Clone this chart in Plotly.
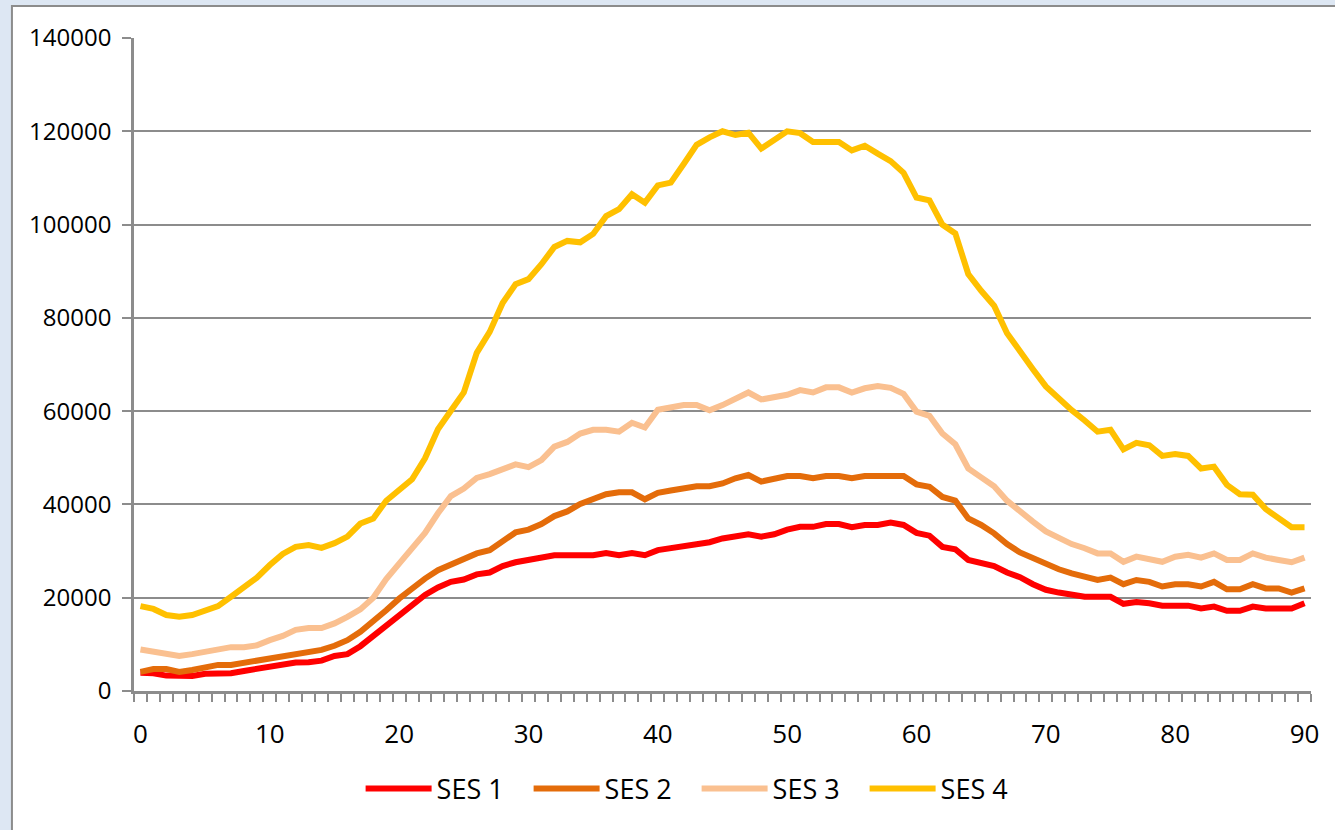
import plotly.graph_objects as go

x_vals = list(range(0, 91))
x_tick_vals = [0, 10, 20, 30, 40, 50, 60, 70, 80, 90]
x_tick_text = ["0", "10", "20", "30", "40", "50", "60", "70", "80", "90"]
y_tick_vals = [0, 20000, 40000, 60000, 80000, 100000, 120000, 140000]
y_tick_text = ["0", "20000", "40000", "60000", "80000", "100000", "120000", "140000"]

series_names = ["SES 1", "SES 2", "SES 3", "SES 4"]

ses1 = [3900, 3800, 3300, 3200, 3200, 3700, 3800, 3800, 4300, 4700,
        5200, 5700, 6100, 6150, 6500, 7500, 7900, 9600, 11800, 14400,
        16500, 18500, 20600, 22200, 23400, 23900, 25000, 25400, 26800, 27600,
        28200, 28700, 29100, 29100, 29100, 29100, 29600, 29100, 29600, 29100,
        30200, 30600, 30900, 31400, 31900, 32700, 33200, 33600, 33100, 33600,
        34600, 35200, 35200, 35800, 35800, 35100, 35600, 35600, 36100, 35600,
        33900, 33300, 30900, 30400, 28100, 27600, 26800, 25400, 24400, 22900,
        21700, 21100, 20700, 20200, 20200, 20200, 18700, 19100, 18800, 18300,
        18300, 18300, 17700, 18100, 17200, 17200, 18100, 17700, 17700, 17700,
        18800]

ses2 = [4100, 4700, 4700, 4100, 4500, 5200, 5600, 5600, 6100, 6500,
        7000, 7500, 7900, 8300, 8800, 9700, 10900, 12700, 14800, 17300,
        19800, 22000, 24100, 25900, 27200, 28200, 29500, 30200, 32000, 34000,
        34600, 35800, 37500, 38500, 40100, 41300, 42200, 42600, 42600, 41100,
        42500, 43000, 43500, 43900, 43900, 44500, 45600, 46300, 44900, 45400,
        46100, 46100, 45600, 46100, 46100, 45600, 46100, 46100, 46100, 46100,
        44300, 43800, 41600, 40800, 37000, 35600, 33800, 31500, 29700, 28400,
        27200, 26100, 25200, 24400, 23800, 24300, 22900, 23800, 23400, 22400,
        22900, 22900, 22400, 23400, 21800, 21800, 22900, 22000, 22000, 21100,
        22000]

ses3 = [8900, 8500, 7900, 7500, 7900, 8400, 8900, 9400, 9400, 9800,
        10900, 11800, 13100, 13500, 13500, 14500, 15900, 17500, 20000, 24000,
        27300, 30600, 33900, 38100, 41800, 43400, 45700, 46500, 47500, 48600,
        48000, 49500, 52400, 53400, 55200, 56000, 56000, 55600, 57500, 56500,
        60300, 60800, 61300, 61300, 60200, 61300, 62700, 64000, 62500, 63100,
        63500, 64500, 64000, 65100, 65100, 64000, 64900, 65400, 65000, 63700,
        59900, 59000, 55200, 52900, 47700, 45800, 43900, 40800, 38400, 36300,
        34200, 32700, 31500, 30600, 29500, 29500, 27700, 28800, 28400, 27700,
        28800, 29200, 28600, 29500, 28100, 28100, 29500, 28600, 28100, 27600,
        28600]

ses4 = [18200, 17600, 16300, 15900, 16300, 17300, 18200, 20200, 22300, 24300,
        27000, 29400, 30900, 31300, 30700, 31700, 33100, 35900, 37000, 40800,
        43100, 45400, 49900, 56100, 60100, 64000, 72500, 77000, 83200, 87200,
        88300, 91500, 95200, 96500, 96200, 98000, 101800, 103300, 106500, 104700,
        108400, 109000, 113000, 117100, 118700, 120000, 119200, 119700, 116300, 118200,
        120000, 119600, 117700, 117700, 117700, 115900, 116900, 115200, 113600, 111100,
        105800, 105200, 100000, 98100, 89400, 85800, 82600, 76700, 73100, 69000,
        65300, 62700, 60200, 58000, 55600, 56000, 51800, 53200, 52700, 50400,
        50800, 50400, 47700, 48100, 44200, 42200, 42100, 39000, 37200, 35100,
        35100]

series_values = [ses1, ses2, ses3, ses4]
series_colors = ["#FF0000", "#E46C0A", "#FAC090", "#FFC000"]

FONT = "Open Sans, Liberation Sans, sans-serif"
GRID = "#8c8c8c"

fig = go.Figure()
for name, vals, col in zip(series_names, series_values, series_colors):
    fig.add_trace(go.Scatter(
        x=x_vals, y=vals, mode="lines", name=name,
        line=dict(color=col, width=6, shape="linear"),
    ))

fig.update_layout(
    width=1335, height=830,
    margin=dict(l=134, r=24, t=38, b=139),
    paper_bgcolor="#dde7f3",
    plot_bgcolor="white",
    font=dict(family=FONT, color="black"),
    showlegend=True,
    legend=dict(
        orientation="h", x=0.478, xanchor="center", y=-0.15, yanchor="middle",
        font=dict(size=27, family=FONT, color="black"),
        bgcolor="rgba(0,0,0,0)", entrywidth=87, entrywidthmode="pixels",
        itemwidth=66,
    ),
    shapes=[dict(
        type="rect", xref="paper", yref="paper",
        x0=-0.1037, x1=1.2, y0=-0.3, y1=1.049,
        fillcolor="white", line=dict(color="#8c8c8c", width=2), layer="below",
    )],
)

fig.update_xaxes(
    range=[-0.5, 90.5],
    tickmode="array", tickvals=x_tick_vals, ticktext=x_tick_text,
    ticks="", ticklabelstandoff=18,
    tickfont=dict(size=26, family=FONT, color="black"),
    showline=True, linecolor=GRID, linewidth=2.5,
    showgrid=False, zeroline=False,
    minor=dict(tickmode="linear", tick0=-0.5, dtick=1, ticks="outside",
               ticklen=8, tickcolor=GRID, tickwidth=2, showgrid=False),
)
fig.update_yaxes(
    range=[0, 140000],
    tickmode="array", tickvals=y_tick_vals, ticktext=y_tick_text,
    ticks="outside", ticklen=9, tickcolor=GRID, tickwidth=2,
    ticklabelstandoff=6,
    tickfont=dict(size=24, family=FONT, color="black"),
    showline=True, linecolor=GRID, linewidth=2.5,
    showgrid=True, gridcolor=GRID, gridwidth=2,
    zeroline=False,
)

fig.write_html(
    "out.html",
    config={"displayModeBar": False},
    post_script="document.body.style.margin='0';document.body.style.background='#dde7f3';",
)
